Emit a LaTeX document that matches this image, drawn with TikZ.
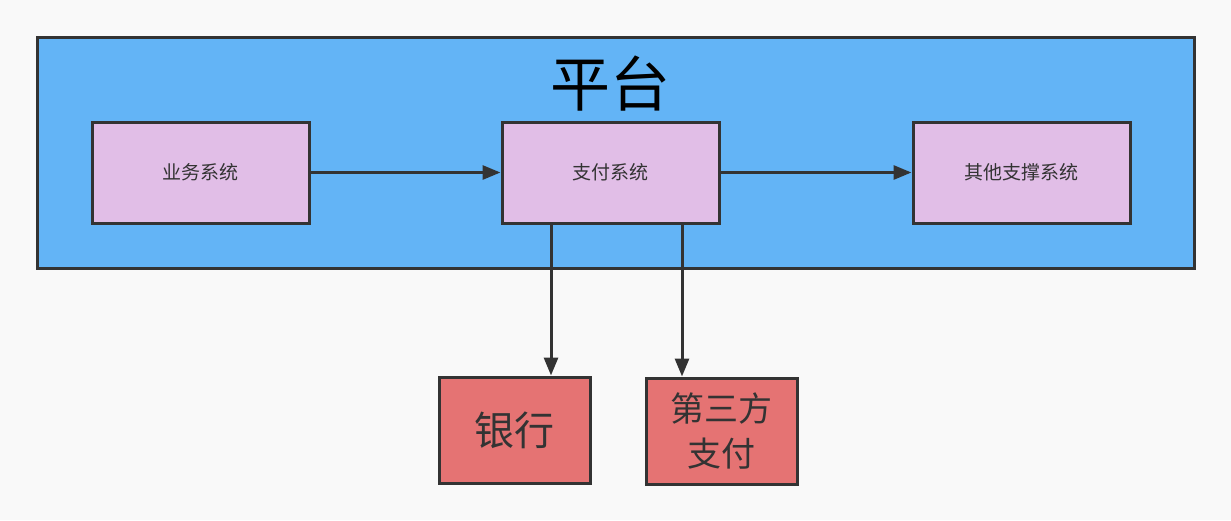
\documentclass[tikz,border=0pt]{standalone}
\usepackage{fontspec}
\setmainfont{Noto Sans CJK SC}
\usetikzlibrary{arrows.meta}
\definecolor{bg}{HTML}{F9F9F9}
\definecolor{plat}{HTML}{63B4F6}
\definecolor{sysfill}{HTML}{E1BEE7}
\definecolor{extfill}{HTML}{E57373}
\definecolor{ln}{HTML}{333333}
\tikzset{
  sysbox/.style={draw=ln, line width=3pt, fill=sysfill, minimum width=217pt, minimum height=101pt, inner sep=0pt, font=\fontsize{19}{23}\selectfont, text=ln},
  extbox/.style={draw=ln, line width=3pt, fill=extfill, minimum width=151pt, minimum height=106pt, inner sep=0pt, text=ln},
  conn/.style={draw=ln, line width=3pt, -{Triangle[length=18pt,width=14pt]}},
}
\begin{document}
\begin{tikzpicture}[x=1pt,y=-1pt]
\fill[bg] (0,0) rectangle (1231,520);
\useasboundingbox (0,0) rectangle (1231,520);
\node[draw=ln, line width=3pt, fill=plat, minimum width=1157pt, minimum height=231pt, inner sep=0pt] (plat) at (615.5,152.5) {};
\node[font=\fontsize{60}{66}\selectfont, text=black] (title) at (610,84) {平台};
\node[sysbox] (biz) at (200.5,172.5) {业务系统};
\node[sysbox] (pay) at (610.5,172.5) {支付系统};
\node[sysbox] (other) at (1021.5,172.5) {其他支撑系统};
\node[extbox, font=\fontsize{40}{46}\selectfont] (bank) at (514.5,430) {银行};
\node[extbox, font=\fontsize{34}{45}\selectfont, align=center] (third) at (721.5,431) {第三方\\支付};
\draw[conn] (biz.east) -- (pay.west);
\draw[conn] (pay.east) -- (other.west);
\coordinate (s1) at (551,223);
\coordinate (s2) at (682,223);
\draw[conn] (s1) -- (s1 |- bank.north);
\draw[conn] (s2) -- (s2 |- third.north);
\end{tikzpicture}
\end{document}
